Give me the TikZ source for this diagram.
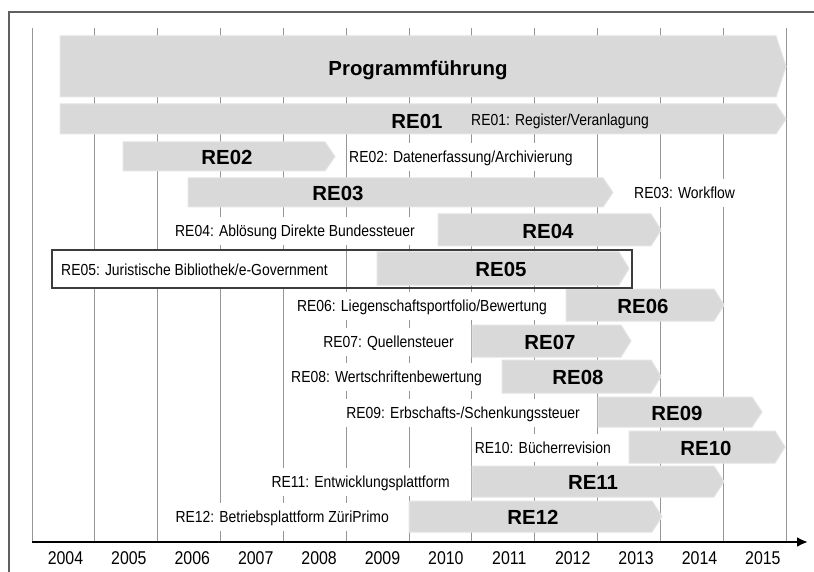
\documentclass[tikz,border=0pt]{standalone}
\usepackage{fontspec}
\setmainfont{Liberation Sans}
\newfontfamily\labfont[FakeStretch=0.87]{Liberation Sans}
\newfontfamily\yearfont[FakeStretch=0.86]{Liberation Sans}
\usetikzlibrary{arrows.meta}
\definecolor{barfill}{RGB}{217,217,217}
\definecolor{barline}{RGB}{228,228,228}
\definecolor{gridc}{RGB}{150,150,150}
\definecolor{framec}{RGB}{96,96,96}
\definecolor{boxc}{RGB}{60,60,60}
\newcommand{\chevbar}[6]{%
  \fill[barfill, draw=barline, line width=1pt] (#2,#4) -- ({#3-#6},#4) -- (#3,{(#4+#5)/2}) -- ({#3-#6},#5) -- (#2,#5) -- cycle;
  \coordinate (#1) at ({(#2+#3)/2},{(#4+#5)/2});
}
\tikzset{
  boldlab/.style={font=\bfseries\fontsize{20.4}{22}\selectfont, inner sep=0pt, text height=14.7pt, text depth=0pt, anchor=center},
  lab/.style={font=\labfont\fontsize{16}{18}\selectfont, inner xsep=2pt, inner ysep=0pt, text height=11.5pt, text depth=0pt, minimum height=28pt},
  wlab/.style={lab, fill=white},
  yearlab/.style={font=\yearfont\fontsize{18.5}{20}\selectfont, inner sep=0pt, text height=13.3pt, text depth=0pt, anchor=center},
  gridline/.style={draw=gridc, line width=1pt},
}
\begin{document}
\begin{tikzpicture}[x=1pt,y=-1pt]
\useasboundingbox (0,0) rectangle (814,572);
\fill[white] (0,0) rectangle (814,572);
% frame
\draw[framec, line width=2pt] (9,580) -- (9,12) -- (820,12);
% grid
\foreach \k in {0,...,12} {
  \draw[gridline] ({32+62.833*\k},28) -- ({32+62.833*\k},541);
}
% white labels
\node[wlab, anchor=west] (l02) at (347,157) {RE02: Datenerfassung/Archivierung};
\node[wlab, anchor=west] (l03) at (632,193) {RE03: Workflow};
\node[wlab, anchor=east] (l04) at (417,231) {RE04: Ablösung Direkte Bundessteuer};
\node[wlab, anchor=west, minimum height=36pt] (l05) at (59,269.5) {RE05: Juristische Bibliothek/e-Government};
\node[wlab, anchor=east] (l06) at (549,306) {RE06: Liegenschaftsportfolio/Bewertung};
\node[wlab, anchor=east] (l07) at (456,342) {RE07: Quellensteuer};
\node[wlab, anchor=east] (l08) at (484,377) {RE08: Wertschriftenbewertung};
\node[wlab, anchor=east] (l09) at (582,413) {RE09: Erbschafts-/Schenkungssteuer};
\node[wlab, anchor=east] (l10) at (613,448) {RE10: Bücherrevision};
\node[wlab, anchor=east] (l11) at (452,482) {RE11: Entwicklungsplattform};
\node[wlab, anchor=east] (l12) at (391,517) {RE12: Betriebsplattform ZüriPrimo};
% bars
\chevbar{bprog}{60}{786}{36}{97}{10}
\chevbar{b01}{60}{786}{104}{134}{10}
\chevbar{b02}{123}{335}{142}{171}{10}
\chevbar{b03}{188}{613}{178}{207}{10}
\chevbar{b04}{438}{661}{214}{246}{10}
\chevbar{b05}{377}{629}{252}{285}{10}
\chevbar{b06}{566}{724}{289}{321}{10}
\chevbar{b07}{472}{631}{325}{357}{10}
\chevbar{b08}{502}{661}{360}{393}{10}
\chevbar{b09}{598}{762}{397}{427}{10}
\chevbar{b10}{629}{785}{431}{463}{10}
\chevbar{b11}{472}{724}{466}{497}{10}
\chevbar{b12}{409}{662}{501}{532}{10}
% RE05 box
\draw[boxc, line width=1.5pt] (52,250) rectangle (632,288);
% bar titles
\node[boldlab] (tprog) at (418,68) {Programmführung};
\node[boldlab] (t01) at (417,121) {RE01};
\node[lab, anchor=west] (l01) at (469,120) {RE01: Register/Veranlagung};
\node[boldlab] (t02) at (227,157) {RE02};
\node[boldlab] (t03) at (338,193) {RE03};
\node[boldlab] (t04) at (548,231) {RE04};
\node[boldlab] (t05) at (501,269) {RE05};
\node[boldlab] (t06) at (643,306) {RE06};
\node[boldlab] (t07) at (550,342) {RE07};
\node[boldlab] (t08) at (578,377) {RE08};
\node[boldlab] (t09) at (677,413) {RE09};
\node[boldlab] (t10) at (706,448) {RE10};
\node[boldlab] (t11) at (593,482) {RE11};
\node[boldlab] (t12) at (533,517) {RE12};
% axis
\coordinate (ax0) at (32,542);
\coordinate (ax1) at (808,542);
\draw[black, line width=2.5pt, -{Latex[length=11pt,width=10pt]}] (ax0) -- (ax1);
\foreach \y [count=\k from 0] in {2004,...,2015} {
  \node[yearlab] (y\y) at ({65.5+63.4*\k},558) {\y};
}
\end{tikzpicture}
\end{document}
